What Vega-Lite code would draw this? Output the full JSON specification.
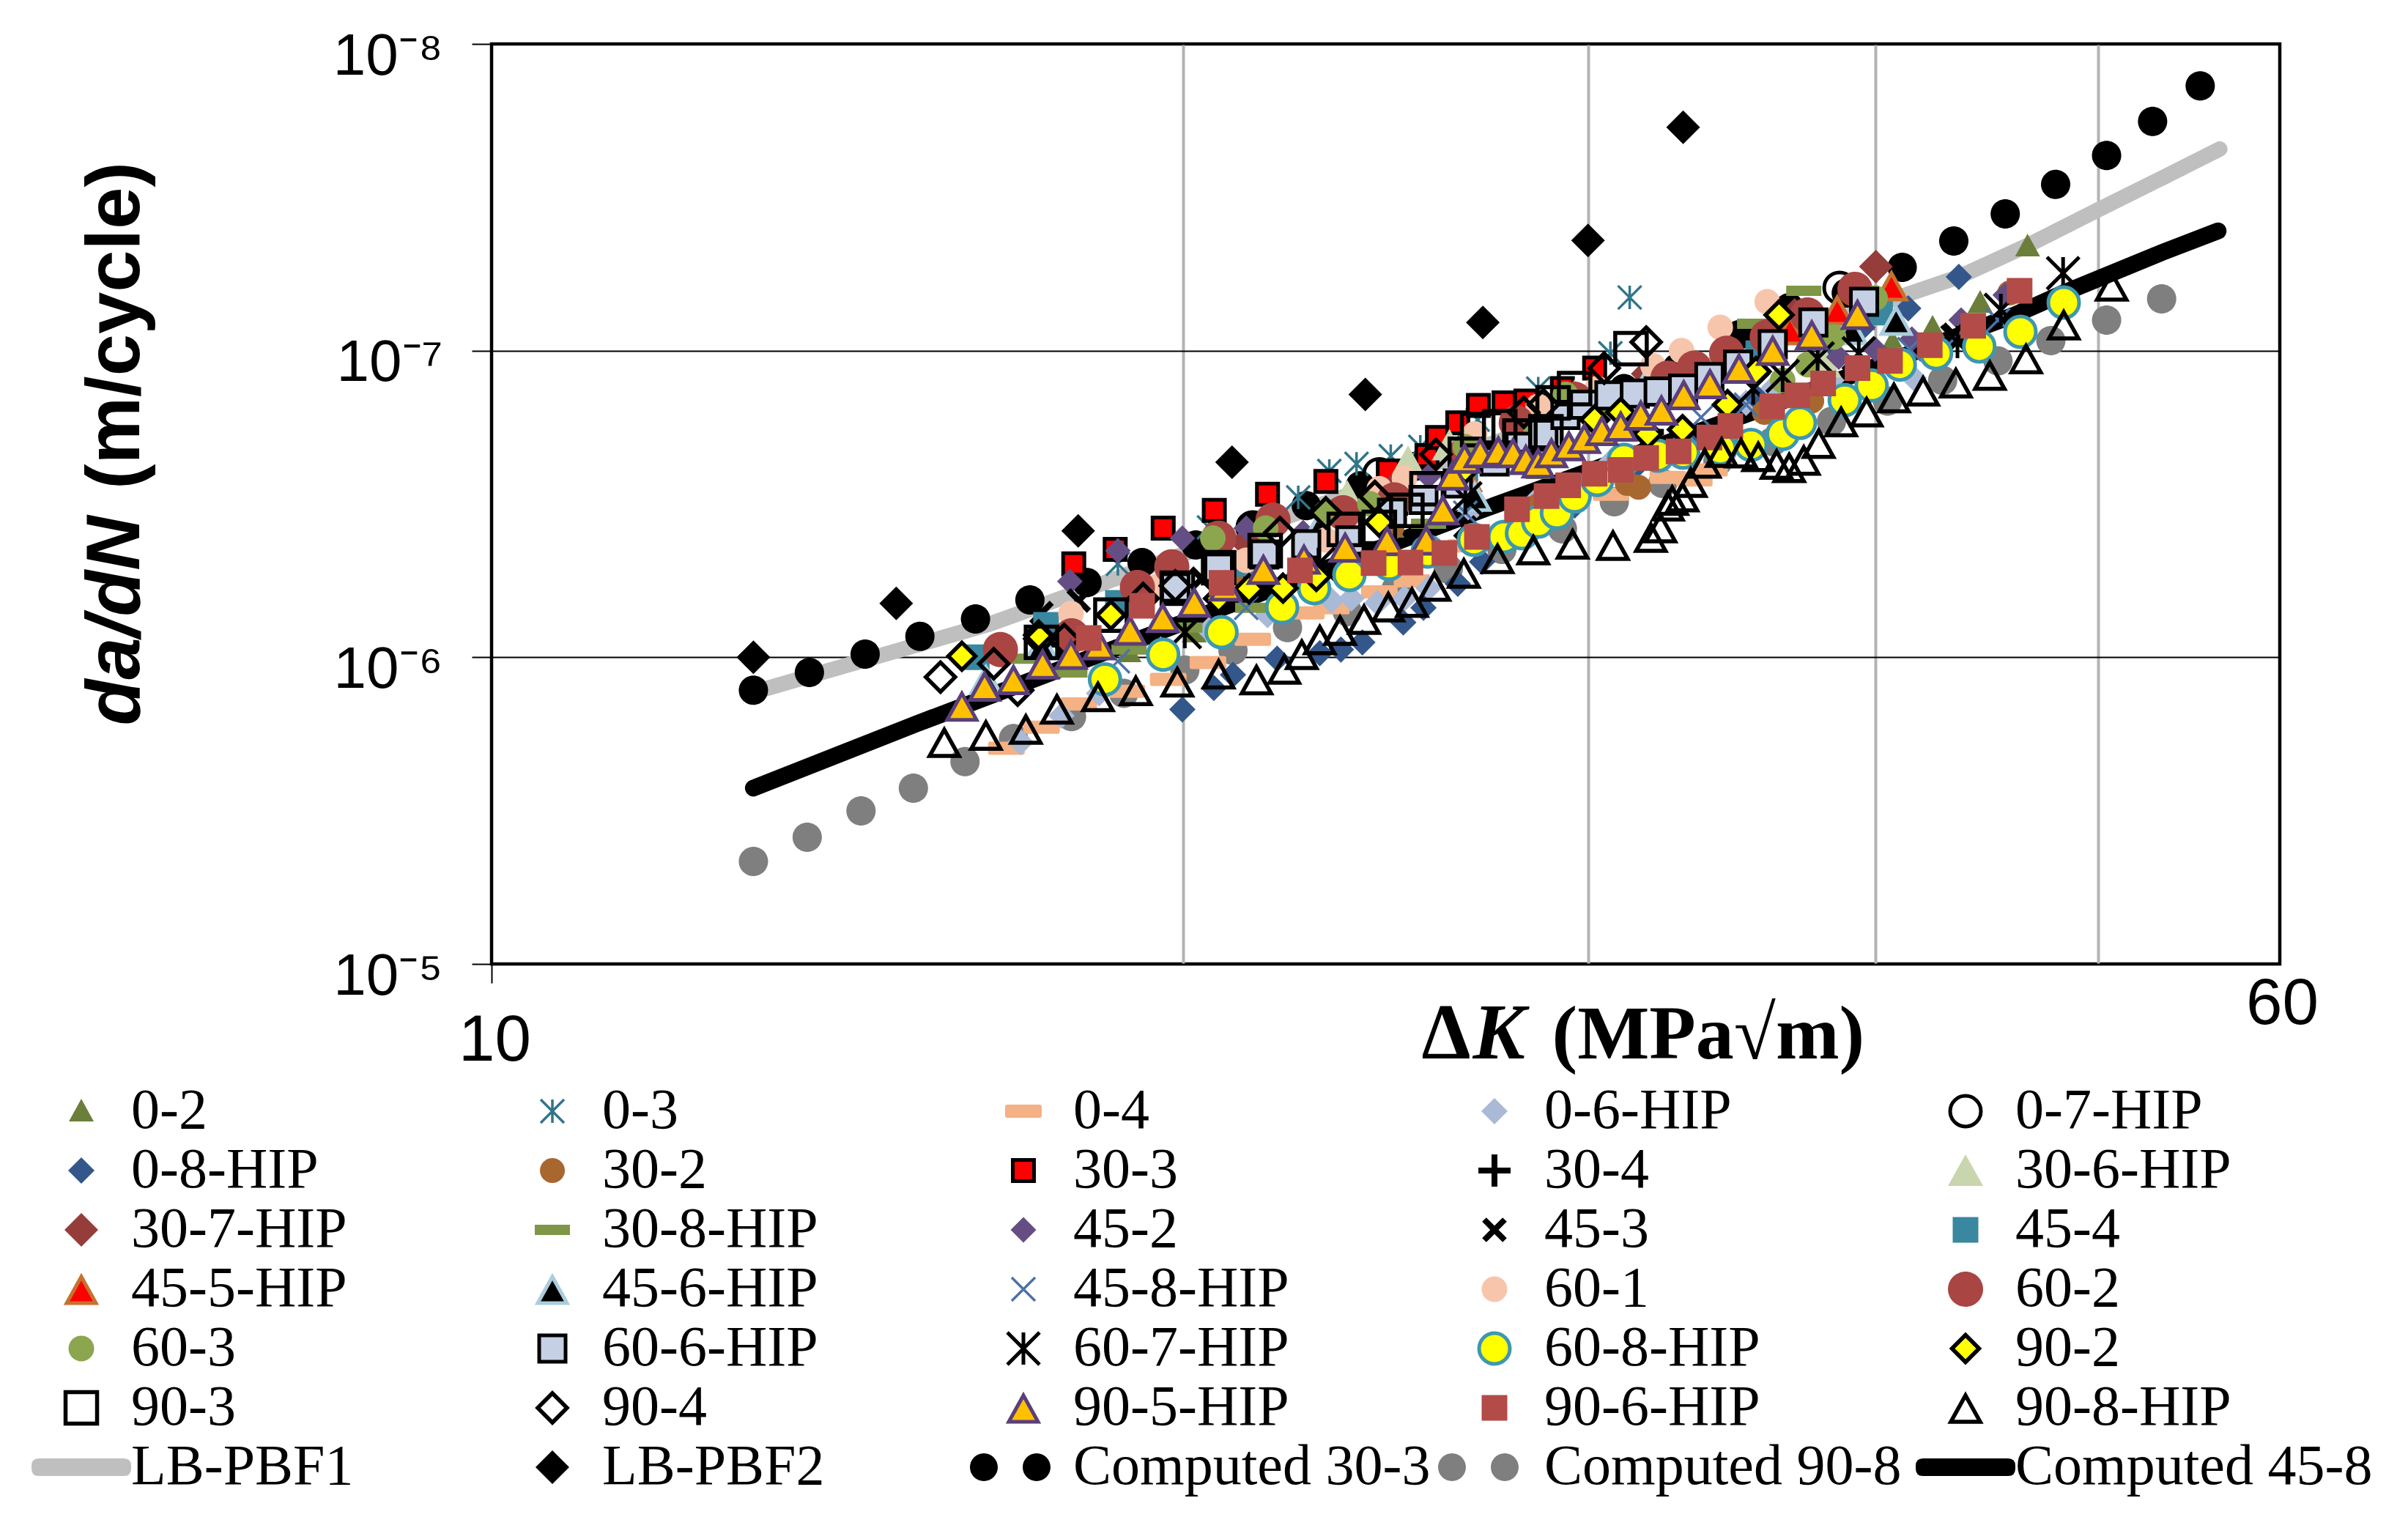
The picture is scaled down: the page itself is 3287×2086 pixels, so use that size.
{
"$schema":"https://vega.github.io/schema/vega-lite/v6.json",
"width":2441,"height":1256,
"autosize":{"type":"none"},
"padding":{"left":671,"top":60,"right":175,"bottom":770},
"background":"white",
"config":{"view":{"stroke":"black","strokeWidth":4.5},
"legend":{"orient":"none","legendX":-599,"legendY":1418,"columns":5,"gridAlign":"all","symbolLimit":0,"symbolSize":4,"labelFont":"Liberation Serif","labelFontSize":78,"labelColor":"black","labelLimit":800,"labelOffset":29,"columnPadding":10,"rowPadding":3,"labelBaseline":"middle"}},
"resolve":{"axis":{"x":"independent","y":"independent"}},
"data":{"values":[
{"s":"LB-PBF1","k":13.0,"r":1.3e-6},{"s":"LB-PBF1","k":16.47,"r":7.79e-7},{"s":"LB-PBF1","k":22.9,"r":3.2e-7},{"s":"LB-PBF1","k":30.7,"r":1.46e-7},{"s":"LB-PBF1","k":41.2,"r":6.6e-8},{"s":"LB-PBF1","k":43.5,"r":5.75e-8},{"s":"LB-PBF1","k":46.6,"r":4.54e-8},{"s":"LB-PBF1","k":50,"r":3.48e-8},{"s":"LB-PBF1","k":53.3,"r":2.74e-8},{"s":"LB-PBF1","k":56.5,"r":2.2e-8},
{"s":"Computed 45-8","k":13,"r":2.67e-6},{"s":"Computed 45-8","k":15.3,"r":1.65e-6},{"s":"Computed 45-8","k":19.8,"r":7.92e-7},{"s":"Computed 45-8","k":26.5,"r":3.47e-7},{"s":"Computed 45-8","k":35.6,"r":1.56e-7},{"s":"Computed 45-8","k":46,"r":7.65e-8},{"s":"Computed 45-8","k":48.3,"r":6.49e-8},{"s":"Computed 45-8","k":53.3,"r":4.79e-8},{"s":"Computed 45-8","k":56.4,"r":4.07e-8},
{"s":"Computed 30-3","k":13.0,"r":1.28e-6},{"s":"Computed 30-3","k":13.75,"r":1.12e-6},{"s":"Computed 30-3","k":14.54,"r":9.76e-7},{"s":"Computed 30-3","k":15.36,"r":8.55e-7},{"s":"Computed 30-3","k":16.24,"r":7.5e-7},{"s":"Computed 30-3","k":17.15,"r":6.5e-7},{"s":"Computed 30-3","k":18.16,"r":5.7e-7},{"s":"Computed 30-3","k":19.19,"r":4.91e-7},{"s":"Computed 30-3","k":20.25,"r":4.3e-7},{"s":"Computed 30-3","k":21.44,"r":3.71e-7},{"s":"Computed 30-3","k":22.62,"r":3.2e-7},{"s":"Computed 30-3","k":23.88,"r":2.76e-7},{"s":"Computed 30-3","k":25.2,"r":2.39e-7},{"s":"Computed 30-3","k":26.59,"r":2.06e-7},{"s":"Computed 30-3","k":28.02,"r":1.77e-7},{"s":"Computed 30-3","k":29.54,"r":1.53e-7},{"s":"Computed 30-3","k":31.1,"r":1.33e-7},{"s":"Computed 30-3","k":32.8,"r":1.14e-7},{"s":"Computed 30-3","k":34.92,"r":8.87e-8},{"s":"Computed 30-3","k":36.7,"r":7.24e-8},{"s":"Computed 30-3","k":38.86,"r":6.49e-8},{"s":"Computed 30-3","k":41.1,"r":5.35e-8},{"s":"Computed 30-3","k":43.28,"r":4.39e-8},{"s":"Computed 30-3","k":45.57,"r":3.58e-8},{"s":"Computed 30-3","k":47.93,"r":2.87e-8},{"s":"Computed 30-3","k":50.44,"r":2.31e-8},{"s":"Computed 30-3","k":52.82,"r":1.79e-8},{"s":"Computed 30-3","k":55.4,"r":1.37e-8},
{"s":"Computed 90-8","k":13,"r":4.63e-6},{"s":"Computed 90-8","k":13.72,"r":3.86e-6},{"s":"Computed 90-8","k":14.48,"r":3.17e-6},{"s":"Computed 90-8","k":15.26,"r":2.67e-6},{"s":"Computed 90-8","k":16.07,"r":2.19e-6},{"s":"Computed 90-8","k":16.87,"r":1.84e-6},{"s":"Computed 90-8","k":17.88,"r":1.56e-6},{"s":"Computed 90-8","k":18.84,"r":1.31e-6},{"s":"Computed 90-8","k":20.03,"r":1.1e-6},{"s":"Computed 90-8","k":21.02,"r":9.5e-7},{"s":"Computed 90-8","k":22.2,"r":8.0e-7},{"s":"Computed 90-8","k":23.57,"r":7.1e-7},{"s":"Computed 90-8","k":24.75,"r":6.0e-7},{"s":"Computed 90-8","k":26.08,"r":5.16e-7},{"s":"Computed 90-8","k":27.52,"r":4.45e-7},{"s":"Computed 90-8","k":29.24,"r":3.81e-7},{"s":"Computed 90-8","k":30.8,"r":3.11e-7},{"s":"Computed 90-8","k":32.33,"r":2.71e-7},{"s":"Computed 90-8","k":34.17,"r":2.3e-7},{"s":"Computed 90-8","k":36.1,"r":1.98e-7},{"s":"Computed 90-8","k":38.29,"r":1.7e-7},{"s":"Computed 90-8","k":40.5,"r":1.46e-7},{"s":"Computed 90-8","k":42.8,"r":1.25e-7},{"s":"Computed 90-8","k":45.24,"r":1.08e-7},{"s":"Computed 90-8","k":47.7,"r":9.27e-8},{"s":"Computed 90-8","k":50.44,"r":7.95e-8},{"s":"Computed 90-8","k":53.3,"r":6.78e-8},
{"s":"0-2","k":18.94,"r":9.6e-7},{"s":"0-2","k":20.22,"r":8.28e-7},{"s":"0-2","k":24.65,"r":3.77e-7},{"s":"0-2","k":28.54,"r":2.43e-7},{"s":"0-2","k":40.7,"r":9.38e-8},{"s":"0-2","k":42.37,"r":8.4e-8},{"s":"0-2","k":44.44,"r":6.97e-8},{"s":"0-2","k":46.6,"r":4.56e-8},
{"s":"0-3","k":18.73,"r":4.96e-7},{"s":"0-3","k":20.52,"r":3.77e-7},{"s":"0-3","k":22.44,"r":3.01e-7},{"s":"0-3","k":23.15,"r":2.47e-7},{"s":"0-3","k":23.79,"r":2.34e-7},{"s":"0-3","k":24.62,"r":2.21e-7},{"s":"0-3","k":25.36,"r":2.06e-7},{"s":"0-3","k":26.86,"r":1.68e-7},{"s":"0-3","k":28.54,"r":1.33e-7},{"s":"0-3","k":30.68,"r":1.02e-7},{"s":"0-3","k":31.28,"r":6.71e-8},
{"s":"0-4","k":16.75,"r":1.98e-6},{"s":"0-4","k":17.35,"r":1.69e-6},{"s":"0-4","k":18.01,"r":1.42e-6},{"s":"0-4","k":18.9,"r":1.29e-6},{"s":"0-4","k":19.7,"r":1.18e-6},{"s":"0-4","k":20.5,"r":1.04e-6},{"s":"0-4","k":21.44,"r":8.74e-7},{"s":"0-4","k":22.62,"r":7.17e-7},{"s":"0-4","k":23.2,"r":6.9e-7},{"s":"0-4","k":24.34,"r":6.12e-7},{"s":"0-4","k":25.15,"r":5.63e-7},{"s":"0-4","k":26.53,"r":4.33e-7},{"s":"0-4","k":28.54,"r":3.47e-7},{"s":"0-4","k":30.7,"r":2.94e-7},{"s":"0-4","k":32.5,"r":2.59e-7},{"s":"0-4","k":33.37,"r":2.64e-7},{"s":"0-4","k":33.88,"r":2.45e-7},
{"s":"0-6-HIP","k":16.99,"r":1.89e-6},{"s":"0-6-HIP","k":17.7,"r":1.55e-6},{"s":"0-6-HIP","k":18.38,"r":1.31e-6},{"s":"0-6-HIP","k":19.55,"r":9.44e-7},{"s":"0-6-HIP","k":20.52,"r":8.14e-7},{"s":"0-6-HIP","k":21.76,"r":7.29e-7},{"s":"0-6-HIP","k":23.2,"r":6.53e-7},{"s":"0-6-HIP","k":23.67,"r":6.43e-7},{"s":"0-6-HIP","k":24.29,"r":6.64e-7},{"s":"0-6-HIP","k":24.96,"r":6.43e-7},{"s":"0-6-HIP","k":25.57,"r":5.95e-7},{"s":"0-6-HIP","k":26.69,"r":3.32e-7},{"s":"0-6-HIP","k":28.54,"r":3.03e-7},{"s":"0-6-HIP","k":30.7,"r":2.3e-7},{"s":"0-6-HIP","k":35.15,"r":1.48e-7},{"s":"0-6-HIP","k":36.03,"r":1.35e-7},{"s":"0-6-HIP","k":38.29,"r":1.25e-7},{"s":"0-6-HIP","k":41.58,"r":1.23e-7},
{"s":"0-7-HIP","k":21.44,"r":3.77e-7},{"s":"0-7-HIP","k":24.34,"r":2.53e-7},{"s":"0-7-HIP","k":28.54,"r":1.56e-7},{"s":"0-7-HIP","k":33.05,"r":1.12e-7},{"s":"0-7-HIP","k":38.6,"r":6.24e-8},
{"s":"0-8-HIP","k":19.98,"r":1.48e-6},{"s":"0-8-HIP","k":20.62,"r":1.26e-6},{"s":"0-8-HIP","k":21.02,"r":1.14e-6},{"s":"0-8-HIP","k":21.97,"r":1.01e-6},{"s":"0-8-HIP","k":22.93,"r":9.7e-7},{"s":"0-8-HIP","k":23.42,"r":9.44e-7},{"s":"0-8-HIP","k":23.93,"r":8.94e-7},{"s":"0-8-HIP","k":24.93,"r":7.7e-7},{"s":"0-8-HIP","k":25.44,"r":6.9e-7},{"s":"0-8-HIP","k":26.33,"r":5.76e-7},{"s":"0-8-HIP","k":26.98,"r":4.88e-7},{"s":"0-8-HIP","k":28.13,"r":3.98e-7},{"s":"0-8-HIP","k":29.6,"r":3.2e-7},{"s":"0-8-HIP","k":31.4,"r":2.43e-7},{"s":"0-8-HIP","k":33.05,"r":1.95e-7},{"s":"0-8-HIP","k":35.58,"r":1.44e-7},{"s":"0-8-HIP","k":38.29,"r":1.01e-7},{"s":"0-8-HIP","k":39.5,"r":8.4e-8},{"s":"0-8-HIP","k":41.35,"r":7.28e-8},{"s":"0-8-HIP","k":43.5,"r":5.75e-8},
{"s":"30-2","k":21.3,"r":5.54e-7},{"s":"30-2","k":24.65,"r":3.77e-7},{"s":"30-2","k":28.54,"r":3.2e-7},{"s":"30-2","k":31.2,"r":2.71e-7},{"s":"30-2","k":31.56,"r":2.79e-7},{"s":"30-2","k":35.8,"r":1.59e-7},{"s":"30-2","k":37.54,"r":1.46e-7},{"s":"30-2","k":45.77,"r":6.49e-8},
{"s":"30-3","k":17.92,"r":4.96e-7},{"s":"30-3","k":18.68,"r":4.45e-7},{"s":"30-3","k":19.6,"r":3.79e-7},{"s":"30-3","k":20.63,"r":3.32e-7},{"s":"30-3","k":21.76,"r":2.94e-7},{"s":"30-3","k":23.07,"r":2.67e-7},{"s":"30-3","k":24.56,"r":2.47e-7},{"s":"30-3","k":25.53,"r":2.2e-7},{"s":"30-3","k":25.8,"r":1.92e-7},{"s":"30-3","k":26.33,"r":1.72e-7},{"s":"30-3","k":26.88,"r":1.51e-7},{"s":"30-3","k":27.58,"r":1.48e-7},{"s":"30-3","k":28.19,"r":1.46e-7},{"s":"30-3","k":29.24,"r":1.33e-7},{"s":"30-3","k":30.2,"r":1.14e-7},
{"s":"30-4","k":17.7,"r":9.09e-7},{"s":"30-4","k":21.3,"r":4.96e-7},{"s":"30-4","k":24.65,"r":3.38e-7},{"s":"30-4","k":26.93,"r":2.06e-7},{"s":"30-4","k":28.97,"r":1.7e-7},{"s":"30-4","k":31.85,"r":1.84e-7},
{"s":"30-6-HIP","k":23.57,"r":2.98e-7},{"s":"30-6-HIP","k":25.05,"r":2.3e-7},{"s":"30-6-HIP","k":26.11,"r":2.03e-7},{"s":"30-6-HIP","k":29.6,"r":1.4e-7},{"s":"30-6-HIP","k":38,"r":1.09e-7},
{"s":"30-7-HIP","k":21.3,"r":4.21e-7},{"s":"30-7-HIP","k":24.65,"r":2.86e-7},{"s":"30-7-HIP","k":27.92,"r":1.72e-7},{"s":"30-7-HIP","k":31.85,"r":1.19e-7},{"s":"30-7-HIP","k":36.9,"r":7.65e-8},{"s":"30-7-HIP","k":40.03,"r":5.32e-8},
{"s":"30-8-HIP","k":16.95,"r":1.01e-6},{"s":"30-8-HIP","k":17.85,"r":1.12e-6},{"s":"30-8-HIP","k":18.94,"r":9.44e-7},{"s":"30-8-HIP","k":20.03,"r":8.0e-7},{"s":"30-8-HIP","k":21.44,"r":6.9e-7},{"s":"30-8-HIP","k":25.57,"r":3.67e-7},{"s":"30-8-HIP","k":30.7,"r":1.56e-7},{"s":"30-8-HIP","k":35.45,"r":8.17e-8},{"s":"30-8-HIP","k":37.24,"r":6.38e-8},
{"s":"45-2","k":17.85,"r":5.66e-7},{"s":"45-2","k":18.73,"r":4.49e-7},{"s":"45-2","k":19.98,"r":4.09e-7},{"s":"45-2","k":21.3,"r":3.79e-7},{"s":"45-2","k":22.55,"r":3.92e-7},{"s":"45-2","k":25.57,"r":2.57e-7},{"s":"45-2","k":28.54,"r":1.95e-7},{"s":"45-2","k":33.05,"r":1.33e-7},{"s":"45-2","k":38.57,"r":1.05e-7},{"s":"45-2","k":40,"r":9.9e-8},{"s":"45-2","k":41.5,"r":9.17e-8},{"s":"45-2","k":43.6,"r":7.95e-8},{"s":"45-2","k":45.57,"r":6.59e-8},
{"s":"45-3","k":17.35,"r":7.17e-7},{"s":"45-3","k":18.01,"r":6.53e-7},{"s":"45-3","k":20.37,"r":5.54e-7},{"s":"45-3","k":26.53,"r":3.77e-7},{"s":"45-3","k":31.85,"r":1.95e-7},{"s":"45-3","k":36.9,"r":1.4e-7},{"s":"45-3","k":43.28,"r":8.87e-8},
{"s":"45-4","k":16.26,"r":1.0e-6},{"s":"45-4","k":17.43,"r":7.84e-7},{"s":"45-4","k":18.73,"r":6.64e-7},{"s":"45-4","k":21.3,"r":4.96e-7},{"s":"45-4","k":26.53,"r":2.43e-7},{"s":"45-4","k":35.58,"r":1.02e-7},{"s":"45-4","k":40.2,"r":7.52e-8},
{"s":"45-5-HIP","k":26.53,"r":2.57e-7},{"s":"45-5-HIP","k":28.54,"r":1.84e-7},{"s":"45-5-HIP","k":33.05,"r":1.19e-7},{"s":"45-5-HIP","k":36.73,"r":8.54e-8},{"s":"45-5-HIP","k":38.51,"r":7.36e-8},{"s":"45-5-HIP","k":40.66,"r":6.14e-8},
{"s":"45-6-HIP","k":16.41,"r":1.18e-6},{"s":"45-6-HIP","k":17.35,"r":9.09e-7},{"s":"45-6-HIP","k":22.9,"r":3.77e-7},{"s":"45-6-HIP","k":26.78,"r":2.98e-7},{"s":"45-6-HIP","k":28.54,"r":1.95e-7},{"s":"45-6-HIP","k":31.85,"r":1.25e-7},{"s":"45-6-HIP","k":39.06,"r":8.54e-8},{"s":"45-6-HIP","k":40.85,"r":7.95e-8},
{"s":"45-8-HIP","k":18.73,"r":1.03e-6},{"s":"45-8-HIP","k":21.3,"r":6.9e-7},{"s":"45-8-HIP","k":26.53,"r":3.38e-7},{"s":"45-8-HIP","k":33.6,"r":1.65e-7},{"s":"45-8-HIP","k":35.15,"r":1.5e-7},{"s":"45-8-HIP","k":41.4,"r":9.9e-8},{"s":"45-8-HIP","k":43.28,"r":9.17e-8},{"s":"45-8-HIP","k":45.24,"r":7.95e-8},
{"s":"60-1","k":17.87,"r":7.21e-7},{"s":"60-1","k":19.5,"r":5.85e-7},{"s":"60-1","k":21.3,"r":4.83e-7},{"s":"60-1","k":23.07,"r":4.14e-7},{"s":"60-1","k":24.34,"r":2.82e-7},{"s":"60-1","k":24.96,"r":2.61e-7},{"s":"60-1","k":26.78,"r":1.87e-7},{"s":"60-1","k":28.54,"r":1.52e-7},{"s":"60-1","k":30.28,"r":1.33e-7},{"s":"60-1","k":32.02,"r":1.12e-7},{"s":"60-1","k":32.95,"r":1.0e-7},{"s":"60-1","k":34.25,"r":8.4e-8},{"s":"60-1","k":35.9,"r":6.93e-8},
{"s":"60-2","k":16.65,"r":9.44e-7},{"s":"60-2","k":17.88,"r":8.51e-7},{"s":"60-2","k":19.1,"r":5.92e-7},{"s":"60-2","k":19.77,"r":5.07e-7},{"s":"60-2","k":20.72,"r":4.09e-7},{"s":"60-2","k":21.88,"r":3.57e-7},{"s":"60-2","k":23.47,"r":3.38e-7},{"s":"60-2","k":24.71,"r":3.07e-7},{"s":"60-2","k":26.53,"r":2.18e-7},{"s":"60-2","k":27.92,"r":1.72e-7},{"s":"60-2","k":29.6,"r":1.44e-7},{"s":"60-2","k":32.5,"r":1.23e-7},{"s":"60-2","k":33.37,"r":1.14e-7},{"s":"60-2","k":34.47,"r":1.02e-7},{"s":"60-2","k":35.9,"r":9.02e-8},{"s":"60-2","k":37.38,"r":7.65e-8},{"s":"60-2","k":39.2,"r":6.31e-8},
{"s":"60-3","k":20.6,"r":4.09e-7},{"s":"60-3","k":21.72,"r":3.79e-7},{"s":"60-3","k":23.07,"r":3.38e-7},{"s":"60-3","k":24.11,"r":3.16e-7},{"s":"60-3","k":26.53,"r":2.06e-7},{"s":"60-3","k":28.48,"r":1.81e-7},{"s":"60-3","k":29.33,"r":1.39e-7},{"s":"60-3","k":36.46,"r":1.25e-7},{"s":"60-3","k":37.38,"r":1.11e-7},{"s":"60-3","k":38.37,"r":9.02e-8},{"s":"60-3","k":40,"r":6.74e-8},
{"s":"60-6-HIP","k":19.84,"r":5.92e-7},{"s":"60-6-HIP","k":20.72,"r":5.1e-7},{"s":"60-6-HIP","k":21.69,"r":4.62e-7},{"s":"60-6-HIP","k":22.62,"r":4.28e-7},{"s":"60-6-HIP","k":23.64,"r":4.16e-7},{"s":"60-6-HIP","k":24.65,"r":3.38e-7},{"s":"60-6-HIP","k":25.44,"r":3.07e-7},{"s":"60-6-HIP","k":26.33,"r":2.71e-7},{"s":"60-6-HIP","k":27.32,"r":2.3e-7},{"s":"60-6-HIP","k":28.02,"r":2.06e-7},{"s":"60-6-HIP","k":28.69,"r":1.87e-7},{"s":"60-6-HIP","k":29.33,"r":1.62e-7},{"s":"60-6-HIP","k":29.89,"r":1.5e-7},{"s":"60-6-HIP","k":30.65,"r":1.4e-7},{"s":"60-6-HIP","k":31.44,"r":1.38e-7},{"s":"60-6-HIP","k":32.2,"r":1.36e-7},{"s":"60-6-HIP","k":33,"r":1.33e-7},{"s":"60-6-HIP","k":33.88,"r":1.22e-7},{"s":"60-6-HIP","k":34.87,"r":1.11e-7},{"s":"60-6-HIP","k":36.1,"r":9.53e-8},{"s":"60-6-HIP","k":37.6,"r":8.09e-8},{"s":"60-6-HIP","k":39.56,"r":6.93e-8},
{"s":"60-7-HIP","k":20.03,"r":8.28e-7},{"s":"60-7-HIP","k":22.9,"r":4.96e-7},{"s":"60-7-HIP","k":26.53,"r":3.03e-7},{"s":"60-7-HIP","k":35.4,"r":1.33e-7},{"s":"60-7-HIP","k":36.46,"r":1.21e-7},{"s":"60-7-HIP","k":37.76,"r":1.06e-7},{"s":"60-7-HIP","k":39.35,"r":1.02e-7},{"s":"60-7-HIP","k":43.44,"r":9.38e-8},{"s":"60-7-HIP","k":45.37,"r":7.36e-8},{"s":"60-7-HIP","k":48.29,"r":5.59e-8},
{"s":"60-8-HIP","k":18.49,"r":1.18e-6},{"s":"60-8-HIP","k":19.6,"r":9.8e-7},{"s":"60-8-HIP","k":20.78,"r":8.28e-7},{"s":"60-8-HIP","k":22.08,"r":6.87e-7},{"s":"60-8-HIP","k":22.8,"r":5.95e-7},{"s":"60-8-HIP","k":23.62,"r":5.39e-7},{"s":"60-8-HIP","k":24.58,"r":4.96e-7},{"s":"60-8-HIP","k":25.55,"r":4.52e-7},{"s":"60-8-HIP","k":26.76,"r":4.14e-7},{"s":"60-8-HIP","k":27.58,"r":4.05e-7},{"s":"60-8-HIP","k":28.08,"r":3.94e-7},{"s":"60-8-HIP","k":28.54,"r":3.61e-7},{"s":"60-8-HIP","k":29.08,"r":3.38e-7},{"s":"60-8-HIP","k":29.6,"r":2.99e-7},{"s":"60-8-HIP","k":30.28,"r":2.64e-7},{"s":"60-8-HIP","k":31.1,"r":2.27e-7},{"s":"60-8-HIP","k":32.17,"r":2.2e-7},{"s":"60-8-HIP","k":33,"r":2.15e-7},{"s":"60-8-HIP","k":34.25,"r":2.09e-7},{"s":"60-8-HIP","k":35.32,"r":2.03e-7},{"s":"60-8-HIP","k":36.46,"r":1.87e-7},{"s":"60-8-HIP","k":37.1,"r":1.72e-7},{"s":"60-8-HIP","k":38.8,"r":1.45e-7},{"s":"60-8-HIP","k":39.86,"r":1.3e-7},{"s":"60-8-HIP","k":41,"r":1.11e-7},{"s":"60-8-HIP","k":42.52,"r":1.02e-7},{"s":"60-8-HIP","k":44.4,"r":9.69e-8},{"s":"60-8-HIP","k":46.27,"r":8.68e-8},{"s":"60-8-HIP","k":48.32,"r":6.97e-8},
{"s":"90-2","k":16.02,"r":9.92e-7},{"s":"90-2","k":17.3,"r":8.46e-7},{"s":"90-2","k":18.6,"r":7.29e-7},{"s":"90-2","k":20.72,"r":6.43e-7},{"s":"90-2","k":21.36,"r":5.98e-7},{"s":"90-2","k":22.1,"r":5.95e-7},{"s":"90-2","k":22.85,"r":5.45e-7},{"s":"90-2","k":24.34,"r":3.63e-7},{"s":"90-2","k":26.53,"r":2.43e-7},{"s":"90-2","k":30.2,"r":1.68e-7},{"s":"90-2","k":31,"r":1.59e-7},{"s":"90-2","k":31.85,"r":1.87e-7},{"s":"90-2","k":32.98,"r":1.81e-7},{"s":"90-2","k":34.5,"r":1.5e-7},{"s":"90-2","k":35.5,"r":1.17e-7},{"s":"90-2","k":36.33,"r":7.65e-8},
{"s":"90-3","k":17.35,"r":8.94e-7},{"s":"90-3","k":18.6,"r":7.29e-7},{"s":"90-3","k":19.88,"r":5.95e-7},{"s":"90-3","k":20.72,"r":5.1e-7},{"s":"90-3","k":21.71,"r":4.49e-7},{"s":"90-3","k":23.5,"r":3.83e-7},{"s":"90-3","k":24.34,"r":3.77e-7},{"s":"90-3","k":25.02,"r":3.32e-7},{"s":"90-3","k":25.53,"r":2.82e-7},{"s":"90-3","k":26.53,"r":2.18e-7},{"s":"90-3","k":26.86,"r":1.81e-7},{"s":"90-3","k":27.46,"r":1.77e-7},{"s":"90-3","k":28.02,"r":1.9e-7},{"s":"90-3","k":28.76,"r":1.84e-7},{"s":"90-3","k":28.97,"r":1.48e-7},{"s":"90-3","k":29.6,"r":1.33e-7},{"s":"90-3","k":31.32,"r":9.85e-8},
{"s":"90-4","k":15.68,"r":1.16e-6},{"s":"90-4","k":16.54,"r":1.05e-6},{"s":"90-4","k":16.94,"r":1.28e-6},{"s":"90-4","k":17.32,"r":8.7e-7},{"s":"90-4","k":17.75,"r":8.74e-7},{"s":"90-4","k":19.21,"r":6.43e-7},{"s":"90-4","k":19.84,"r":5.85e-7},{"s":"90-4","k":22.03,"r":3.92e-7},{"s":"90-4","k":23.07,"r":3.38e-7},{"s":"90-4","k":24.23,"r":2.99e-7},{"s":"90-4","k":25.76,"r":2.18e-7},{"s":"90-4","k":28.13,"r":1.59e-7},{"s":"90-4","k":28.69,"r":1.5e-7},{"s":"90-4","k":30.49,"r":1.14e-7},{"s":"90-4","k":31.8,"r":9.38e-8},
{"s":"90-5-HIP","k":16.02,"r":1.44e-6},{"s":"90-5-HIP","k":16.39,"r":1.24e-6},{"s":"90-5-HIP","k":16.87,"r":1.18e-6},{"s":"90-5-HIP","k":17.37,"r":1.05e-6},{"s":"90-5-HIP","k":17.87,"r":9.76e-7},{"s":"90-5-HIP","k":18.38,"r":9.09e-7},{"s":"90-5-HIP","k":18.96,"r":8.14e-7},{"s":"90-5-HIP","k":19.59,"r":7.41e-7},{"s":"90-5-HIP","k":20.22,"r":6.6e-7},{"s":"90-5-HIP","k":20.86,"r":5.85e-7},{"s":"90-5-HIP","k":21.67,"r":5.16e-7},{"s":"90-5-HIP","k":22.57,"r":4.78e-7},{"s":"90-5-HIP","k":23.52,"r":4.37e-7},{"s":"90-5-HIP","k":24.53,"r":4.16e-7},{"s":"90-5-HIP","k":25.51,"r":4.14e-7},{"s":"90-5-HIP","k":25.94,"r":3.3e-7},{"s":"90-5-HIP","k":26.2,"r":2.54e-7},{"s":"90-5-HIP","k":26.51,"r":2.24e-7},{"s":"90-5-HIP","k":26.93,"r":2.15e-7},{"s":"90-5-HIP","k":27.42,"r":2.12e-7},{"s":"90-5-HIP","k":27.83,"r":2.15e-7},{"s":"90-5-HIP","k":28.19,"r":2.26e-7},{"s":"90-5-HIP","k":28.54,"r":2.32e-7},{"s":"90-5-HIP","k":28.92,"r":2.15e-7},{"s":"90-5-HIP","k":29.43,"r":2.04e-7},{"s":"90-5-HIP","k":29.89,"r":1.93e-7},{"s":"90-5-HIP","k":30.42,"r":1.82e-7},{"s":"90-5-HIP","k":31,"r":1.76e-7},{"s":"90-5-HIP","k":31.63,"r":1.62e-7},{"s":"90-5-HIP","k":32.29,"r":1.56e-7},{"s":"90-5-HIP","k":33.02,"r":1.39e-7},{"s":"90-5-HIP","k":33.9,"r":1.28e-7},{"s":"90-5-HIP","k":34.9,"r":1.14e-7},{"s":"90-5-HIP","k":36.1,"r":9.96e-8},{"s":"90-5-HIP","k":37.54,"r":8.87e-8},{"s":"90-5-HIP","k":39.3,"r":7.61e-8},
{"s":"90-6-HIP","k":18.19,"r":8.65e-7},{"s":"90-6-HIP","k":19.19,"r":6.79e-7},{"s":"90-6-HIP","k":20.78,"r":5.72e-7},{"s":"90-6-HIP","k":22.48,"r":5.21e-7},{"s":"90-6-HIP","k":24.2,"r":4.93e-7},{"s":"90-6-HIP","k":25.11,"r":4.91e-7},{"s":"90-6-HIP","k":25.98,"r":4.57e-7},{"s":"90-6-HIP","k":26.84,"r":4.05e-7},{"s":"90-6-HIP","k":27.94,"r":3.29e-7},{"s":"90-6-HIP","k":28.78,"r":2.98e-7},{"s":"90-6-HIP","k":29.41,"r":2.75e-7},{"s":"90-6-HIP","k":30.2,"r":2.52e-7},{"s":"90-6-HIP","k":31,"r":2.45e-7},{"s":"90-6-HIP","k":31.8,"r":2.24e-7},{"s":"90-6-HIP","k":32.85,"r":2.13e-7},{"s":"90-6-HIP","k":33.88,"r":1.92e-7},{"s":"90-6-HIP","k":34.6,"r":1.76e-7},{"s":"90-6-HIP","k":36.08,"r":1.52e-7},{"s":"90-6-HIP","k":37,"r":1.4e-7},{"s":"90-6-HIP","k":37.97,"r":1.28e-7},{"s":"90-6-HIP","k":39.3,"r":1.14e-7},{"s":"90-6-HIP","k":40.6,"r":1.08e-7},{"s":"90-6-HIP","k":42.25,"r":9.6e-8},{"s":"90-6-HIP","k":44.13,"r":8.3e-8},{"s":"90-6-HIP","k":46.23,"r":6.38e-8},
{"s":"90-8-HIP","k":15.74,"r":1.89e-6},{"s":"90-8-HIP","k":16.41,"r":1.79e-6},{"s":"90-8-HIP","k":17.08,"r":1.71e-6},{"s":"90-8-HIP","k":17.62,"r":1.47e-6},{"s":"90-8-HIP","k":18.36,"r":1.34e-6},{"s":"90-8-HIP","k":19.07,"r":1.28e-6},{"s":"90-8-HIP","k":19.88,"r":1.2e-6},{"s":"90-8-HIP","k":20.72,"r":1.13e-6},{"s":"90-8-HIP","k":21.52,"r":1.18e-6},{"s":"90-8-HIP","k":22.13,"r":1.09e-6},{"s":"90-8-HIP","k":22.52,"r":9.76e-7},{"s":"90-8-HIP","k":22.93,"r":8.74e-7},{"s":"90-8-HIP","k":23.4,"r":8.14e-7},{"s":"90-8-HIP","k":23.97,"r":7.5e-7},{"s":"90-8-HIP","k":24.56,"r":6.83e-7},{"s":"90-8-HIP","k":25.15,"r":6.6e-7},{"s":"90-8-HIP","k":25.72,"r":5.85e-7},{"s":"90-8-HIP","k":26.49,"r":5.3e-7},{"s":"90-8-HIP","k":27.4,"r":4.75e-7},{"s":"90-8-HIP","k":28.4,"r":4.45e-7},{"s":"90-8-HIP","k":29.54,"r":4.26e-7},{"s":"90-8-HIP","k":30.76,"r":4.3e-7},{"s":"90-8-HIP","k":31.95,"r":4.05e-7},{"s":"90-8-HIP","k":32.26,"r":3.77e-7},{"s":"90-8-HIP","k":32.5,"r":3.2e-7},{"s":"90-8-HIP","k":32.64,"r":3.07e-7},{"s":"90-8-HIP","k":32.98,"r":2.99e-7},{"s":"90-8-HIP","k":33.25,"r":2.68e-7},{"s":"90-8-HIP","k":33.72,"r":2.32e-7},{"s":"90-8-HIP","k":34.3,"r":2.14e-7},{"s":"90-8-HIP","k":34.97,"r":2.15e-7},{"s":"90-8-HIP","k":35.58,"r":2.21e-7},{"s":"90-8-HIP","k":36.24,"r":2.34e-7},{"s":"90-8-HIP","k":36.7,"r":2.4e-7},{"s":"90-8-HIP","k":37.24,"r":2.27e-7},{"s":"90-8-HIP","k":37.8,"r":2.0e-7},{"s":"90-8-HIP","k":38.66,"r":1.7e-7},{"s":"90-8-HIP","k":39.66,"r":1.58e-7},{"s":"90-8-HIP","k":40.76,"r":1.42e-7},{"s":"90-8-HIP","k":41.97,"r":1.35e-7},{"s":"90-8-HIP","k":43.37,"r":1.27e-7},{"s":"90-8-HIP","k":44.87,"r":1.2e-7},{"s":"90-8-HIP","k":46.53,"r":1.06e-7},{"s":"90-8-HIP","k":48.32,"r":8.22e-8},{"s":"90-8-HIP","k":50.7,"r":6.14e-8},
{"s":"LB-PBF2","k":13,"r":1.0e-6},{"s":"LB-PBF2","k":15,"r":6.67e-7},{"s":"LB-PBF2","k":18,"r":3.87e-7},{"s":"LB-PBF2","k":21,"r":2.31e-7},{"s":"LB-PBF2","k":24,"r":1.39e-7},{"s":"LB-PBF2","k":27,"r":8.09e-8},{"s":"LB-PBF2","k":30,"r":4.37e-8},{"s":"LB-PBF2","k":33,"r":1.87e-8}
]},
"layer":[
{"transform":[{"filter":"datum.s==='LB-PBF1'"}],
 "mark":{"type":"line","color":"#BFBFBF","strokeWidth":21,"strokeCap":"round","clip":false},
 "encoding":{
  "x":{"field":"k","type":"quantitative","scale":{"type":"log","domain":[10,60],"nice":false},
   "axis":{"orient":"bottom","values":[20,30,40,50],"grid":true,"gridColor":"#B3B3B3","gridWidth":4,"gridOpacity":1,"labels":false,"ticks":false,"domain":false,"title":null}},
  "y":{"field":"r","type":"quantitative","scale":{"type":"log","domain":[1e-8,1e-5],"nice":false,"reverse":true},
   "axis":{"orient":"left","values":[1e-8,1e-7,1e-6,1e-5],"grid":true,"gridColor":"black","gridWidth":2,"gridOpacity":1,"domain":false,"ticks":true,"tickColor":"black","tickWidth":2,"tickSize":27,"labelFont":"Liberation Sans","labelFontSize":80,"labelColor":"black","labelPadding":40,"labelOffset":17,"labelBaseline":"middle","labelExpr":"round(log(datum.value)/LN10)==-8?'10⁻⁸':round(log(datum.value)/LN10)==-7?'10⁻⁷':round(log(datum.value)/LN10)==-6?'10⁻⁶':'10⁻⁵'","title":null}}
 }},
{"transform":[{"filter":"datum.s==='Computed 45-8'"}],
 "mark":{"type":"line","color":"black","strokeWidth":23,"strokeCap":"round","clip":false},
 "encoding":{
  "x":{"field":"k","type":"quantitative","scale":{"type":"log","domain":[10,60],"nice":false},
   "axis":{"orient":"bottom","values":[60],"grid":false,"domain":false,"ticks":false,"labelFont":"Liberation Sans","labelFontSize":89,"labelColor":"black","labelPadding":11,"labelOffset":3,"labelBaseline":"top","labelFlush":false,"labelOverlap":false,"labelExpr":"'60'",
   "title":"(MPa√m)","titleFont":"Liberation Serif","titleFontSize":104,"titleFontWeight":"bold","titleColor":"black","titleAlign":"left","titleBaseline":"alphabetic","titleAnchor":"start","titleX":1447,"titleY":128}},
  "y":{"field":"r","type":"quantitative","scale":{"type":"log","domain":[1e-8,1e-5],"nice":false,"reverse":true},
   "axis":{"orient":"left","values":[1e-5],"grid":false,"domain":false,"ticks":false,"labels":false,"title":"(m/cycle)","titleFont":"Liberation Sans","titleFontSize":103,"titleFontWeight":"bold","titleColor":"black","titleAlign":"center","titleBaseline":"alphabetic","titleAngle":270,"titleX":-482,"titleY":384}}
 }},
{"transform":[{"filter":"datum.s==='Computed 30-3'||datum.s==='Computed 90-8'"}],
 "mark":{"type":"point","filled":true,"size":4,"opacity":1,"clip":false,"strokeWidth":0,"shape":"M-20,0A20,20 0 1,1 20,0A20,20 0 1,1 -20,0Z"},
 "encoding":{
  "x":{"field":"k","type":"quantitative","scale":{"type":"log","domain":[10,60],"nice":false},
   "axis":{"orient":"bottom","values":[10],"grid":false,"domain":false,"ticks":true,"tickColor":"black","tickWidth":2,"tickSize":26,"labelFont":"Liberation Sans","labelFontSize":89,"labelColor":"black","labelPadding":35,"labelOffset":4,"labelBaseline":"top","labelFlush":false,"labelOverlap":false,"labelExpr":"'10'","title":"K","titleFont":"Liberation Serif","titleFontSize":107,"titleFontWeight":"bold","titleFontStyle":"italic","titleColor":"black","titleAlign":"left","titleBaseline":"alphabetic","titleAnchor":"start","titleX":1339,"titleY":128}},
  "y":{"field":"r","type":"quantitative","scale":{"type":"log","domain":[1e-8,1e-5],"nice":false,"reverse":true},
   "axis":{"orient":"left","values":[1e-5],"grid":false,"domain":false,"ticks":false,"labels":false,"title":"da/dN","titleFont":"Liberation Sans","titleFontSize":103,"titleFontWeight":"bold","titleFontStyle":"italic","titleColor":"black","titleAlign":"center","titleBaseline":"alphabetic","titleAngle":270,"titleX":-482,"titleY":787}},
  "fill":{"field":"s","type":"nominal","title":null,"scale":{"domain":["0-2","0-3","0-4","0-6-HIP","0-7-HIP","0-8-HIP","30-2","30-3","30-4","30-6-HIP","30-7-HIP","30-8-HIP","45-2","45-3","45-4","45-5-HIP","45-6-HIP","45-8-HIP","60-1","60-2","60-3","60-6-HIP","60-7-HIP","60-8-HIP","90-2","90-3","90-4","90-5-HIP","90-6-HIP","90-8-HIP","LB-PBF1","LB-PBF2","Computed 30-3","Computed 90-8","Computed 45-8"],"range":["#6B7F3B","transparent","#F4B183","#AAB9D6","transparent","#33578A","#A96730","#FF0000","transparent","#C9D5AD","#953D3B","#7E9645","#654E84","transparent","#3A87A0","#FF0000","#000000","transparent","#F7C5AB","#A94543","#8BA64E","#C6D0E4","transparent","#FFFF00","#FFFF00","transparent","transparent","#FFC000","#B34B48","transparent","#BFBFBF","#000000","#000000","#7F7F7F","#000000"]}}
 }},
{"transform":[{"filter":"datum.s!=='Computed 30-3'&&datum.s!=='Computed 90-8'&&datum.s!=='LB-PBF1'&&datum.s!=='Computed 45-8'"}],
 "mark":{"type":"point","filled":true,"size":4,"opacity":1,"clip":false},
 "encoding":{
  "x":{"field":"k","type":"quantitative","scale":{"type":"log","domain":[10,60],"nice":false},
   "axis":{"orient":"bottom","values":[10],"grid":false,"domain":false,"ticks":false,"labels":false,"title":"Δ","titleFont":"Liberation Serif","titleFontSize":107,"titleFontWeight":"bold","titleColor":"black","titleAlign":"left","titleBaseline":"alphabetic","titleAnchor":"start","titleX":1269,"titleY":128}},
  "y":{"field":"r","type":"quantitative","scale":{"type":"log","domain":[1e-8,1e-5],"nice":false,"reverse":true},"axis":null},
  "fill":{"field":"s","type":"nominal","title":null,"legend":{"values":["0-2","0-8-HIP","30-7-HIP","45-5-HIP","60-3","90-3","LB-PBF1","0-3","30-2","30-8-HIP","45-6-HIP","60-6-HIP","90-4","LB-PBF2","0-4","30-3","45-2","45-8-HIP","60-7-HIP","90-5-HIP","Computed 30-3","0-6-HIP","30-4","45-3","60-1","60-8-HIP","90-6-HIP","Computed 90-8","0-7-HIP","30-6-HIP","45-4","60-2","90-2","90-8-HIP","Computed 45-8"]},"scale":{"domain":["0-2","0-3","0-4","0-6-HIP","0-7-HIP","0-8-HIP","30-2","30-3","30-4","30-6-HIP","30-7-HIP","30-8-HIP","45-2","45-3","45-4","45-5-HIP","45-6-HIP","45-8-HIP","60-1","60-2","60-3","60-6-HIP","60-7-HIP","60-8-HIP","90-2","90-3","90-4","90-5-HIP","90-6-HIP","90-8-HIP","LB-PBF1","LB-PBF2","Computed 30-3","Computed 90-8","Computed 45-8"],"range":["#6B7F3B","transparent","#F4B183","#AAB9D6","transparent","#33578A","#A96730","#FF0000","transparent","#C9D5AD","#953D3B","#7E9645","#654E84","transparent","#3A87A0","#FF0000","#000000","transparent","#F7C5AB","#A94543","#8BA64E","#C6D0E4","transparent","#FFFF00","#FFFF00","transparent","transparent","#FFC000","#B34B48","transparent","#BFBFBF","#000000","#000000","#7F7F7F","#000000"]}},
  "stroke":{"field":"s","type":"nominal","title":null,"legend":{"values":["0-2","0-8-HIP","30-7-HIP","45-5-HIP","60-3","90-3","LB-PBF1","0-3","30-2","30-8-HIP","45-6-HIP","60-6-HIP","90-4","LB-PBF2","0-4","30-3","45-2","45-8-HIP","60-7-HIP","90-5-HIP","Computed 30-3","0-6-HIP","30-4","45-3","60-1","60-8-HIP","90-6-HIP","Computed 90-8","0-7-HIP","30-6-HIP","45-4","60-2","90-2","90-8-HIP","Computed 45-8"]},"scale":{"domain":["0-2","0-3","0-4","0-6-HIP","0-7-HIP","0-8-HIP","30-2","30-3","30-4","30-6-HIP","30-7-HIP","30-8-HIP","45-2","45-3","45-4","45-5-HIP","45-6-HIP","45-8-HIP","60-1","60-2","60-3","60-6-HIP","60-7-HIP","60-8-HIP","90-2","90-3","90-4","90-5-HIP","90-6-HIP","90-8-HIP","LB-PBF1","LB-PBF2","Computed 30-3","Computed 90-8","Computed 45-8"],"range":["transparent","#31758A","transparent","transparent","#000000","transparent","transparent","#000000","#000000","transparent","transparent","transparent","transparent","#000000","transparent","#C6722F","#A9CDDD","#4A73A8","transparent","transparent","transparent","#000000","#000000","#3E97B0","#000000","#000000","#000000","#5B3F7A","transparent","#000000","transparent","transparent","transparent","transparent","transparent"]}},
  "strokeWidth":{"field":"s","type":"nominal","title":null,"legend":{"values":["0-2","0-8-HIP","30-7-HIP","45-5-HIP","60-3","90-3","LB-PBF1","0-3","30-2","30-8-HIP","45-6-HIP","60-6-HIP","90-4","LB-PBF2","0-4","30-3","45-2","45-8-HIP","60-7-HIP","90-5-HIP","Computed 30-3","0-6-HIP","30-4","45-3","60-1","60-8-HIP","90-6-HIP","Computed 90-8","0-7-HIP","30-6-HIP","45-4","60-2","90-2","90-8-HIP","Computed 45-8"]},"scale":{"type":"ordinal","domain":["0-2","0-3","0-4","0-6-HIP","0-7-HIP","0-8-HIP","30-2","30-3","30-4","30-6-HIP","30-7-HIP","30-8-HIP","45-2","45-3","45-4","45-5-HIP","45-6-HIP","45-8-HIP","60-1","60-2","60-3","60-6-HIP","60-7-HIP","60-8-HIP","90-2","90-3","90-4","90-5-HIP","90-6-HIP","90-8-HIP","LB-PBF1","LB-PBF2","Computed 30-3","Computed 90-8","Computed 45-8"],"range":[0,3.5,0,0,5,0,0,5,8,0,0,0,0,8,0,5,5,3.5,0,0,0,5,5,5,5.5,5.5,5.5,5,0,5.5,0,0,0,0,0]}},
  "shape":{"field":"s","type":"nominal","title":null,"legend":{"values":["0-2","0-8-HIP","30-7-HIP","45-5-HIP","60-3","90-3","LB-PBF1","0-3","30-2","30-8-HIP","45-6-HIP","60-6-HIP","90-4","LB-PBF2","0-4","30-3","45-2","45-8-HIP","60-7-HIP","90-5-HIP","Computed 30-3","0-6-HIP","30-4","45-3","60-1","60-8-HIP","90-6-HIP","Computed 90-8","0-7-HIP","30-6-HIP","45-4","60-2","90-2","90-8-HIP","Computed 45-8"]},"scale":{"domain":["0-2","0-3","0-4","0-6-HIP","0-7-HIP","0-8-HIP","30-2","30-3","30-4","30-6-HIP","30-7-HIP","30-8-HIP","45-2","45-3","45-4","45-5-HIP","45-6-HIP","45-8-HIP","60-1","60-2","60-3","60-6-HIP","60-7-HIP","60-8-HIP","90-2","90-3","90-4","90-5-HIP","90-6-HIP","90-8-HIP","LB-PBF1","LB-PBF2","Computed 30-3","Computed 90-8","Computed 45-8"],"range":["M0,-17L17,14H-17Z","M-16,-16L16,16M-16,16L16,-16M0,-16V16","M-22,-9H22Q25,-9 25,-6V6Q25,9 22,9H-22Q-25,9 -25,6V-6Q-25,-9 -22,-9Z","M0,-18L18,0L0,18L-18,0Z","M-21,0A21,21 0 1,1 21,0A21,21 0 1,1 -21,0Z","M0,-18L18,0L0,18L-18,0Z","M-17,0A17,17 0 1,1 17,0A17,17 0 1,1 -17,0Z","M-14.5,-14.5H14.5V14.5H-14.5Z","M-22,0H22M0,-22V22","M0,-22L24,21H-24Z","M0,-23L23,0L0,23L-23,0Z","M-24,-7H24V7H-24Z","M0,-17.5L17.5,0L0,17.5L-17.5,0Z","M-14,-14L14,14M-14,14L14,-14","M-17.5,-17.5H17.5V17.5H-17.5Z","M0,-17L20,19H-20Z","M0,-17L20,19H-20Z","M-16,-16L16,16M-16,16L16,-16","M-17.5,0A17.5,17.5 0 1,1 17.5,0A17.5,17.5 0 1,1 -17.5,0Z","M-24,0A24,24 0 1,1 24,0A24,24 0 1,1 -24,0Z","M-17.5,0A17.5,17.5 0 1,1 17.5,0A17.5,17.5 0 1,1 -17.5,0Z","M-18,-18H18V18H-18Z","M-22,-22L22,22M-22,22L22,-22M0,-22V22","M-21,0A21,21 0 1,1 21,0A21,21 0 1,1 -21,0Z","M0,-18.5L18.5,0L0,18.5L-18.5,0Z","M-21.5,-21.5H21.5V21.5H-21.5Z","M0,-20L20,0L0,20L-20,0Z","M0,-17L20,19H-20Z","M-17.5,-17.5H17.5V17.5H-17.5Z","M0,-17L20,19H-20Z","M-58,-12H58Q68,-12 68,-2V2Q68,12 58,12H-58Q-68,12 -68,2V-2Q-68,-12 -58,-12Z","M0,-23L23,0L0,23L-23,0Z","M-73,0A19,19 0 1,1 -35,0A19,19 0 1,1 -73,0ZM-1,0A19,19 0 1,1 37,0A19,19 0 1,1 -1,0Z","M-77,0A19,19 0 1,1 -39,0A19,19 0 1,1 -77,0ZM-5,0A19,19 0 1,1 33,0A19,19 0 1,1 -5,0Z","M-58,-12H58Q68,-12 68,-2V2Q68,12 58,12H-58Q-68,12 -68,2V-2Q-68,-12 -58,-12Z"]}}
 }}
]
}
